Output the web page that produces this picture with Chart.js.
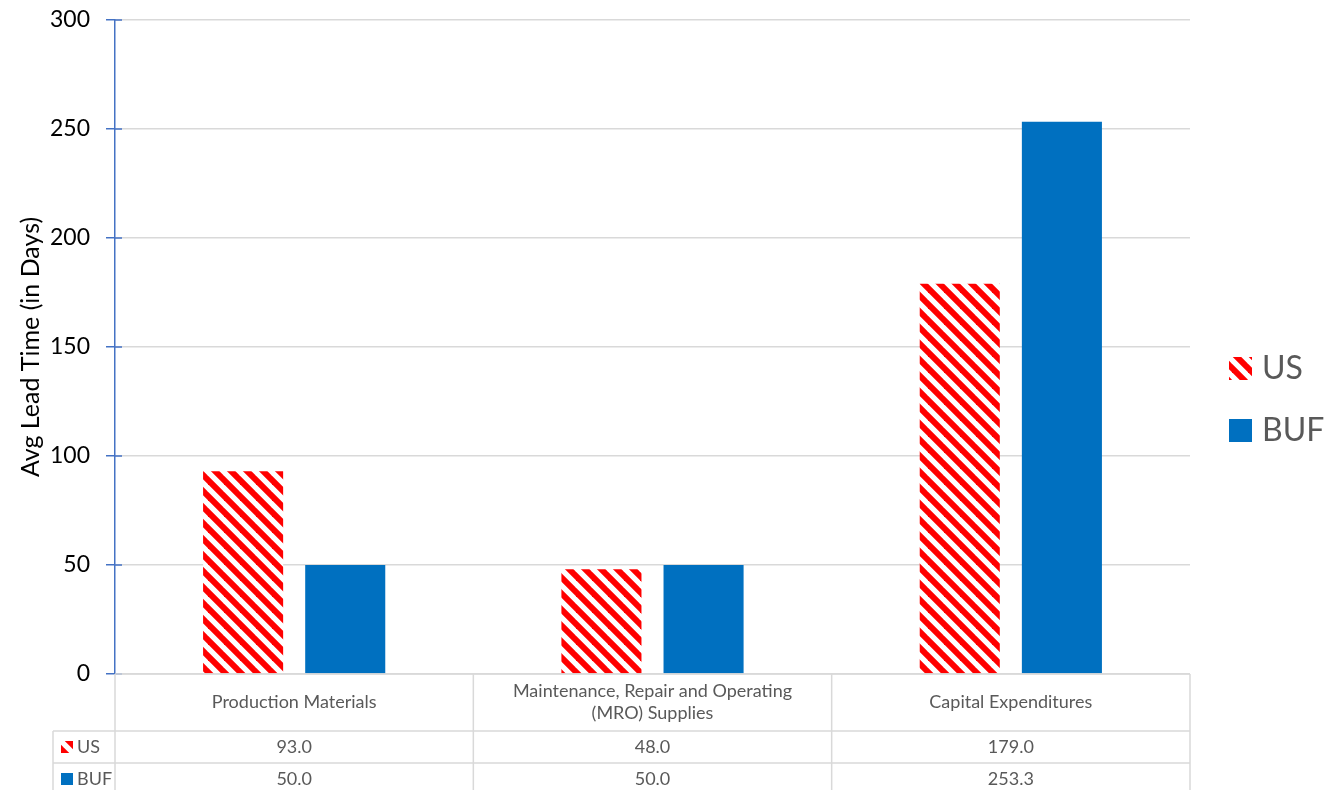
<!DOCTYPE html>
<html>
<head>
<meta charset="utf-8">
<script src="https://cdn.jsdelivr.net/npm/chart.js@4/dist/chart.umd.min.js"></script>
<style>
  html, body { margin: 0; padding: 0; background: #fff; }
  canvas { display: block; }
</style>
</head>
<body>
<canvas id="chart" width="1339" height="790"></canvas>
<script>
const categories = [
  ['Production Materials'],
  ['Maintenance, Repair and Operating', '(MRO) Supplies'],
  ['Capital Expenditures']
];
const seriesNames = ['US', 'BUF'];
const usValues = [93.0, 48.0, 179.0];
const bufValues = [50.0, 50.0, 253.3];
const yMin = 0;
const yMax = 300;
const yStep = 50;

const FONT = 'Lato, "Open Sans", sans-serif';
const BLUE = '#0070c0';
const GRID = '#d9d9d9';
const TEXT = '#595959';

// red "wide downward diagonal" hatch, like the office pattern fill
function makeHatch() {
  const c = document.createElement('canvas');
  c.width = 16;
  c.height = 16;
  const g = c.getContext('2d');
  g.fillStyle = '#fff';
  g.fillRect(0, 0, 16, 16);
  g.strokeStyle = '#ff0000';
  g.lineWidth = 6;
  for (const off of [-16, 0, 16]) {
    g.beginPath();
    g.moveTo(off - 4, -4);
    g.lineTo(off + 20, 20);
    g.stroke();
  }
  return g.createPattern(c, 'repeat');
}

const hatch = makeHatch();
const fills = [hatch, BLUE];

// data table under the plot + legend on the right
const tablePlugin = {
  id: 'dataTable',
  afterDraw(chart) {
    const { ctx, chartArea } = chart;
    const x = chart.scales.x;
    const y = chart.scales.y;
    const half = (x.getPixelForValue(1) - x.getPixelForValue(0)) / 2;
    const top = chartArea.bottom;
    const row1 = top + 57;
    const row2 = row1 + 32;
    const row3 = row2 + 32;
    const legLeft = chartArea.left - 62;

    ctx.save();

    // blue tick marks crossing into the plot
    ctx.strokeStyle = '#4472c4';
    ctx.lineWidth = 1.5;
    for (const t of y.ticks) {
      const py = y.getPixelForValue(t.value);
      ctx.beginPath();
      ctx.moveTo(chartArea.left, py);
      ctx.lineTo(chartArea.left + 7, py);
      ctx.stroke();
    }

    ctx.strokeStyle = GRID;
    ctx.lineWidth = 1.5;
    ctx.beginPath();
    ctx.moveTo(chartArea.left, top);
    ctx.lineTo(chartArea.right, top);
    ctx.moveTo(legLeft, row1);
    ctx.lineTo(chartArea.right, row1);
    ctx.moveTo(legLeft, row2);
    ctx.lineTo(chartArea.right, row2);
    ctx.moveTo(legLeft, row1);
    ctx.lineTo(legLeft, row3);
    for (let i = 0; i <= categories.length; i++) {
      const px = x.getPixelForValue(i) - half;
      ctx.moveTo(px, top);
      ctx.lineTo(px, row3);
    }
    ctx.stroke();

    ctx.fillStyle = TEXT;
    ctx.font = '18px ' + FONT;
    ctx.textAlign = 'center';
    ctx.textBaseline = 'middle';
    categories.forEach((lines, i) => {
      const cx = x.getPixelForValue(i);
      const mid = (top + row1) / 2;
      lines.forEach((ln, j) => {
        ctx.fillText(ln, cx, mid + (j - (lines.length - 1) / 2) * 22);
      });
    });

    const rows = [usValues, bufValues];
    const rowMid = [(row1 + row2) / 2, (row2 + row3) / 2];
    rows.forEach((vals, r) => {
      ctx.textAlign = 'center';
      ctx.fillStyle = TEXT;
      vals.forEach((v, i) => {
        ctx.fillText(v.toFixed(1), x.getPixelForValue(i), rowMid[r]);
      });
      ctx.fillStyle = fills[r];
      ctx.fillRect(legLeft + 8, rowMid[r] - 6, 12, 12);
      ctx.fillStyle = TEXT;
      ctx.textAlign = 'left';
      ctx.fillText(seriesNames[r], legLeft + 24, rowMid[r]);
    });

    // right-hand legend
    const lx = chartArea.right + 39;
    const centers = [368, 430];
    ctx.font = '32px ' + FONT;
    seriesNames.forEach((name, i) => {
      ctx.fillStyle = fills[i];
      ctx.fillRect(lx, centers[i] - 11, 23, 23);
      ctx.fillStyle = TEXT;
      ctx.textAlign = 'left';
      ctx.fillText(name, lx + 33, centers[i] + 1);
    });

    ctx.restore();
  }
};

new Chart(document.getElementById('chart'), {
  type: 'bar',
  data: {
    labels: categories,
    datasets: [
      {
        label: seriesNames[0],
        data: usValues,
        backgroundColor: hatch,
        borderWidth: 0,
        categoryPercentage: 0.57,
        barPercentage: 0.784,
      },
      {
        label: seriesNames[1],
        data: bufValues,
        backgroundColor: BLUE,
        borderWidth: 0,
        categoryPercentage: 0.57,
        barPercentage: 0.784,
      }
    ]
  },
  options: {
    responsive: false,
    animation: false,
    layout: { padding: { top: 20, right: 149, bottom: 116, left: 0 } },
    plugins: {
      legend: { display: false },
      tooltip: { enabled: false }
    },
    scales: {
      x: { display: false },
      y: {
        min: yMin,
        max: yMax,
        ticks: {
          stepSize: yStep,
          color: '#000',
          padding: 16,
          font: { size: 23, family: FONT, lineHeight: 0.3 }
        },
        grid: {
          color: GRID,
          lineWidth: 1.5,
          tickColor: '#4472c4',
          tickLength: 9
        },
        border: { color: '#4472c4', width: 1.5 },
        title: {
          display: true,
          text: 'Avg Lead Time (in Days)',
          color: '#000',
          font: { size: 25, family: FONT },
          padding: { top: 16, bottom: 0 }
        },
        afterFit(scale) { scale.width = 115; }
      }
    }
  },
  plugins: [tablePlugin]
});
</script>
</body>
</html>
